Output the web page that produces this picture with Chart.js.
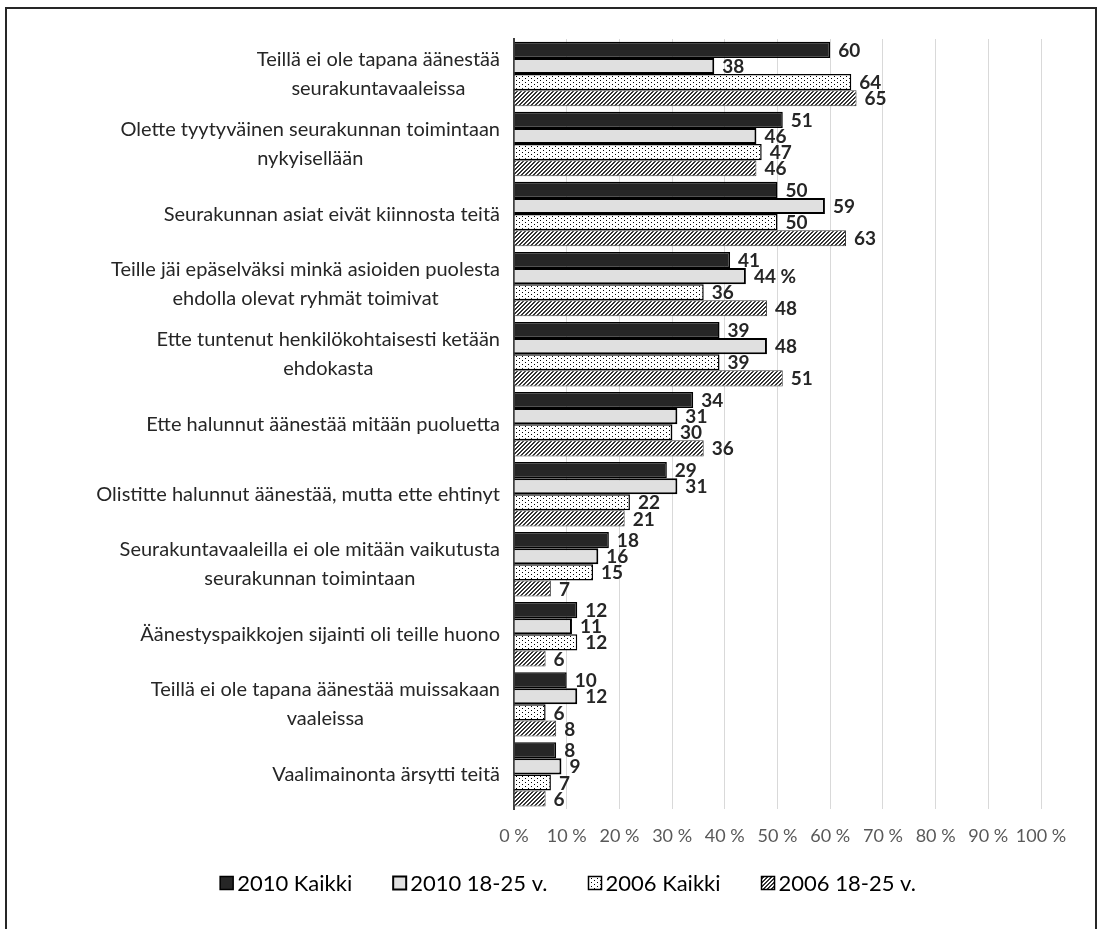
<!DOCTYPE html>
<html>
<head>
<meta charset="utf-8">
<script src="https://cdn.jsdelivr.net/npm/chart.js@4.4.1/dist/chart.umd.min.js"></script>
<style>
  html, body { margin: 0; padding: 0; background: #fff; overflow: hidden; }
  #wrap { position: relative; width: 1098px; height: 929px; }
  #frame { position: absolute; left: 5px; top: 7px; width: 1088px; height: 940px; border: 2px solid #262626; pointer-events: none; }
</style>
</head>
<body>
<div id="wrap">
  <canvas id="chart" width="1098" height="929"></canvas>
  <div id="frame"></div>
</div>
<script>
// categories (multi-line labels as in the original)
const categories = [
    ['Teillä ei ole tapana äänestää', 'seurakuntavaaleissa'],
    ['Olette tyytyväinen seurakunnan toimintaan', 'nykyisellään'],
    ['Seurakunnan asiat eivät kiinnosta teitä'],
    ['Teille jäi epäselväksi minkä asioiden puolesta', 'ehdolla olevat ryhmät toimivat'],
    ['Ette tuntenut henkilökohtaisesti ketään', 'ehdokasta'],
    ['Ette halunnut äänestää mitään puoluetta'],
    ['Olistitte halunnut äänestää, mutta ette ehtinyt'],
    ['Seurakuntavaaleilla ei ole mitään vaikutusta', 'seurakunnan toimintaan'],
    ['Äänestyspaikkojen sijainti oli teille huono'],
    ['Teillä ei ole tapana äänestää muissakaan', 'vaaleissa'],
    ['Vaalimainonta ärsytti teitä']
];
const kaikki2010 = [60, 51, 50, 41, 39, 34, 29, 18, 12, 10, 8];
const nuoret2010 = [38, 46, 59, 44, 48, 31, 31, 16, 11, 12, 9];
const kaikki2006 = [64, 47, 50, 36, 39, 30, 22, 15, 12, 6, 7];
const nuoret2006 = [65, 46, 63, 48, 51, 36, 21, 7, 6, 8, 6];
const seriesNames = ['2010 Kaikki', '2010 18-25 v.', '2006 Kaikki', '2006 18-25 v.'];
const xTickValues = [0, 10, 20, 30, 40, 50, 60, 70, 80, 90, 100];
// the one data label that carries a percent sign: [series, category]
const percentLabel = [1, 3];

const FONT = 'Lato, "Open Sans", sans-serif';

const ctx = document.getElementById('chart').getContext('2d');

function dotPattern() {
    const c = document.createElement('canvas');
    c.width = 6; c.height = 4;
    const g = c.getContext('2d');
    g.fillStyle = '#fff';
    g.fillRect(0, 0, 6, 4);
    g.fillStyle = '#000';
    g.fillRect(0, 0, 1, 1);
    g.fillRect(3, 2, 1, 1);
    return ctx.createPattern(c, 'repeat');
}

function hatchPattern() {
    const c = document.createElement('canvas');
    c.width = 4; c.height = 4;
    const g = c.getContext('2d');
    g.fillStyle = '#fff';
    g.fillRect(0, 0, 4, 4);
    g.fillStyle = '#333';
    for (let y = 0; y < 4; y++) {
        g.fillRect((3 - y + 4) % 4, y, 1, 1);
        g.fillRect((4 - y) % 4, y, 1, 1);
    }
    return ctx.createPattern(c, 'repeat');
}

// category labels: block right-aligned to the axis, lines centred in the block
const categoryLabels = {
    id: 'categoryLabels',
    afterDraw(chart) {
        const c = chart.ctx;
        const yScale = chart.scales.y;
        const right = 500;
        const lineH = 29;
        c.save();
        c.font = '20px ' + FONT;
        c.fillStyle = '#262626';
        c.textAlign = 'center';
        c.textBaseline = 'middle';
        categories.forEach((lines, i) => {
            const w = Math.max(...lines.map(l => c.measureText(l).width));
            const cx = right - w / 2;
            const cy = yScale.getPixelForValue(i);
            const top = cy - (lines.length - 1) * lineH / 2;
            lines.forEach((l, k) => c.fillText(l, cx, top + k * lineH));
        });
        c.restore();
    }
};

// value labels next to bar ends
const valueLabels = {
    id: 'valueLabels',
    afterDatasetsDraw(chart) {
        const c = chart.ctx;
        c.save();
        c.font = 'bold 19px ' + FONT;
        c.fillStyle = '#262626';
        c.textAlign = 'left';
        c.textBaseline = 'middle';
        chart.data.datasets.forEach((ds, di) => {
            chart.getDatasetMeta(di).data.forEach((bar, i) => {
                let txt = String(ds.data[i]);
                if (di === percentLabel[0] && i === percentLabel[1]) txt += ' %';
                c.fillText(txt, bar.x + 8, bar.y + 1);
            });
        });
        c.restore();
    }
};

// legend row at the bottom, centred like the original
const bottomLegend = {
    id: 'bottomLegend',
    afterDraw(chart) {
        const c = chart.ctx;
        const box = 13, gapText = 4, gapItem = 41;
        const cxCenter = 568, cy = 883;
        c.save();
        c.font = '22px ' + FONT;
        c.textBaseline = 'middle';
        c.textAlign = 'left';
        const widths = chart.data.datasets.map(ds => c.measureText(ds.label).width);
        const total = widths.reduce((s, w) => s + box + gapText + w, 0) + gapItem * (widths.length - 1);
        let x = cxCenter - total / 2;
        chart.data.datasets.forEach((ds, i) => {
            c.fillStyle = ds.backgroundColor;
            c.fillRect(x, cy - box / 2, box, box);
            c.lineWidth = Math.max(ds.borderWidth, 1.5);
            c.strokeStyle = '#000';
            c.strokeRect(x, cy - box / 2, box, box);
            c.fillStyle = '#000';
            c.fillText(ds.label, x + box + gapText, cy + 1);
            x += box + gapText + widths[i] + gapItem;
        });
        c.restore();
    }
};

new Chart(ctx, {
    type: 'bar',
    data: {
        labels: categories.map(l => l.join(' ')),
        datasets: [
            { label: seriesNames[0], data: kaikki2010, backgroundColor: '#262626', borderColor: '#000', borderWidth: 1.5 },
            { label: seriesNames[1], data: nuoret2010, backgroundColor: '#e0e0e0', borderColor: '#000', borderWidth: 2 },
            { label: seriesNames[2], data: kaikki2006, backgroundColor: dotPattern(), borderColor: '#000', borderWidth: 1.5 },
            { label: seriesNames[3], data: nuoret2006, backgroundColor: hatchPattern(), borderColor: '#404040', borderWidth: 1 }
        ]
    },
    options: {
        indexAxis: 'y',
        responsive: false,
        animation: false,
        events: [],
        datasets: { bar: { categoryPercentage: 0.92, barPercentage: 1.0 } },
        layout: { padding: { left: 0, right: 57, top: 39, bottom: 66 } },
        scales: {
            x: {
                min: 0, max: 100,
                afterBuildTicks: s => { s.ticks = xTickValues.map(v => ({ value: v })); },
                ticks: { callback: v => v + ' %', color: '#595959', font: { family: FONT, size: 18 }, padding: 16, maxRotation: 0, autoSkip: false },
                grid: { color: '#d9d9d9', lineWidth: 1, drawTicks: false },
                border: { display: false }
            },
            y: {
                afterFit: s => { s.width = 514; },
                ticks: { display: false },
                grid: { display: false },
                border: { color: '#404040', width: 2 }
            }
        },
        plugins: {
            legend: { display: false },
            tooltip: { enabled: false }
        }
    },
    plugins: [categoryLabels, valueLabels, bottomLegend]
});
</script>
</body>
</html>
